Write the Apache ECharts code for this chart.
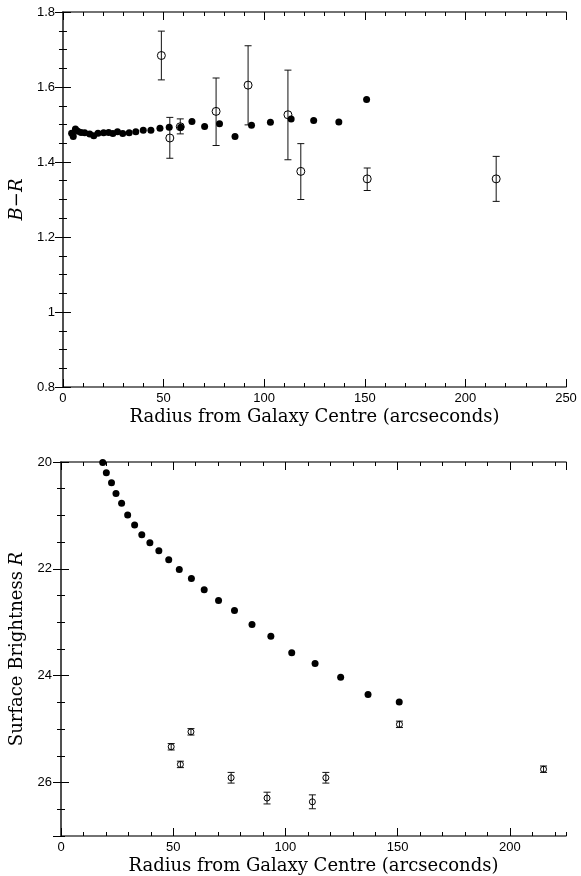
<!DOCTYPE html>
<html>
<head>
<meta charset="utf-8">
<script src="https://cdn.jsdelivr.net/npm/echarts@6/dist/echarts.min.js"></script>
<style>
  html, body { margin: 0; padding: 0; background: #fff; }
  #chart { width: 581px; height: 876px; }
</style>
</head>
<body>
<div id="chart"></div>
<script>
// B-R colour profile, filled points (radius in arcsec, colour)
const brDiskR = [4.3, 5.1, 6.2, 7.4, 9.0, 10.8, 13.3, 15.3, 17.4, 20.2, 22.7, 24.8, 27.1, 29.7, 32.9, 36.2,
  39.9, 43.7, 48.2, 52.8, 58.5, 64.1, 70.4, 77.8, 85.5, 93.7, 103.1, 113.4, 124.6, 137.1, 150.9]
const brDiskColor = [1.477, 1.468, 1.488, 1.482, 1.479, 1.478, 1.475, 1.470, 1.477, 1.478, 1.479, 1.476, 1.481, 1.476, 1.478, 1.481,
  1.485, 1.485, 1.490, 1.493, 1.493, 1.508, 1.495, 1.502, 1.468, 1.498, 1.506, 1.515, 1.511, 1.507, 1.567]

// B-R open points with error bars
const brOutR = [48.9, 53.1, 58.3, 76.1, 92.0, 111.8, 118.2, 151.2, 215.3]
const brOutColor = [1.684, 1.464, 1.494, 1.535, 1.605, 1.526, 1.375, 1.355, 1.355]
const brOutLow = [1.619, 1.410, 1.475, 1.444, 1.499, 1.406, 1.300, 1.324, 1.295]
const brOutHigh = [1.749, 1.519, 1.515, 1.624, 1.710, 1.645, 1.449, 1.384, 1.415]

// surface brightness R, filled points
const sbDiskR = [18.6, 20.2, 22.5, 24.5, 27.0, 29.7, 32.8, 36.0, 39.6, 43.6, 48.0, 52.7, 58.1, 63.8, 70.2,
  77.3, 85.1, 93.5, 102.8, 113.2, 124.6, 136.8, 150.7]
const sbDiskMag = [20.01, 20.20, 20.39, 20.59, 20.77, 20.99, 21.18, 21.36, 21.51, 21.66, 21.83, 22.01, 22.18, 22.39, 22.59,
  22.78, 23.04, 23.26, 23.57, 23.77, 24.03, 24.35, 24.49]

// surface brightness R, open points with error bars
const sbOutR = [49.1, 53.2, 57.9, 75.8, 91.8, 112.0, 118.0, 150.8, 215.0]
const sbOutMag = [25.33, 25.66, 25.05, 25.91, 26.29, 26.36, 25.91, 24.91, 25.75]
const sbOutErr = [0.06, 0.06, 0.06, 0.10, 0.11, 0.13, 0.10, 0.06, 0.06]

const xTitle = 'Radius from Galaxy Centre (arcseconds)'

const serif = 'DejaVu Serif'
const sans = 'Liberation Sans'
const frameColor = '#444'

// 4 axes per side pair: major+minor on the main side, major+minor mirrored
function makeAxes(dim, gridIndex, opt) {
  const sides = dim === 'x' ? ['bottom', 'top'] : ['left', 'right']
  const base = {
    type: 'value', gridIndex, min: opt.min, max: opt.max, inverse: !!opt.inverse,
    splitLine: { show: false }, axisLabel: { show: false }, axisLine: { show: false }
  }
  const line = { show: true, lineStyle: { color: frameColor, width: 1.5 } }
  const major = { inside: true, length: 8, lineStyle: { color: '#000', width: 1 } }
  const minor = { inside: true, length: 4, lineStyle: { color: '#000', width: 1 } }
  return [
    Object.assign({}, base, {
      position: sides[0], interval: opt.major, axisLine: line, axisTick: major,
      axisLabel: {
        show: true, color: '#000', fontFamily: sans, fontSize: 13, margin: opt.labelMargin,
        showMaxLabel: opt.showMaxLabel !== false
      },
      name: opt.name, nameLocation: 'middle', nameGap: opt.nameGap, nameRotate: opt.nameRotate,
      nameTextStyle: opt.nameStyle
    }),
    Object.assign({}, base, { position: sides[0], interval: opt.minor, axisTick: minor }),
    Object.assign({}, base, { position: sides[1], interval: opt.major, axisLine: line, axisTick: major }),
    Object.assign({}, base, { position: sides[1], interval: opt.minor, axisTick: minor })
  ]
}

const xNameStyle = { fontFamily: serif, fontSize: 18, color: '#000' }

const xAxes = [].concat(
  makeAxes('x', 0, { min: 0, max: 250, major: 50, minor: 10, name: xTitle, nameGap: 21, labelMargin: 5, nameStyle: xNameStyle }),
  makeAxes('x', 1, { min: 0, max: 225, major: 50, minor: 10, name: xTitle, nameGap: 21, labelMargin: 5, nameStyle: xNameStyle, showMaxLabel: false })
)
const yAxes = [].concat(
  makeAxes('y', 0, {
    min: 0.8, max: 1.8, major: 0.2, minor: 0.05, name: 'B\u2212R', nameGap: 35, nameRotate: 90, labelMargin: 8,
    nameStyle: { fontFamily: serif, fontSize: 18, fontStyle: 'italic', color: '#000' }
  }),
  makeAxes('y', 1, {
    min: 20, max: 27, major: 2, minor: 0.5, inverse: true, name: '{n|Surface Brightness }{i|R}', nameGap: 35, nameRotate: 90,
    labelMargin: 9, showMaxLabel: false,
    nameStyle: {
      rich: {
        n: { fontFamily: serif, fontSize: 18, color: '#000' },
        i: { fontFamily: serif, fontSize: 18, fontStyle: 'italic', color: '#000' }
      }
    }
  })
)

function errorBars(xIdx, yIdx, data) {
  return {
    type: 'custom', xAxisIndex: xIdx, yAxisIndex: yIdx, z: 2, data,
    renderItem(params, api) {
      const lo = api.coord([api.value(0), api.value(1)])
      const hi = api.coord([api.value(0), api.value(2)])
      const w = 3.5
      const style = { stroke: '#111', lineWidth: 1 }
      return {
        type: 'group',
        children: [
          { type: 'line', shape: { x1: lo[0], y1: lo[1], x2: hi[0], y2: hi[1] }, style },
          { type: 'line', shape: { x1: lo[0] - w, y1: lo[1], x2: lo[0] + w, y2: lo[1] }, style },
          { type: 'line', shape: { x1: hi[0] - w, y1: hi[1], x2: hi[0] + w, y2: hi[1] }, style }
        ]
      }
    }
  }
}

const openStyle = { color: 'rgba(0,0,0,0)', borderColor: '#000', borderWidth: 1, opacity: 1 }
const fillStyle = { color: '#000', opacity: 1 }

const chart = echarts.init(document.getElementById('chart'))
chart.setOption({
  animation: false,
  backgroundColor: '#fff',
  grid: [
    { left: 59, top: 12, width: 507, height: 375 },
    { left: 59, top: 462, width: 507, height: 375 }
  ],
  xAxis: xAxes,
  yAxis: yAxes,
  series: [
    errorBars(0, 0, brOutR.map((r, i) => [r, brOutLow[i], brOutHigh[i]])),
    {
      type: 'scatter', xAxisIndex: 0, yAxisIndex: 0, z: 3, symbol: 'circle', symbolSize: 8,
      itemStyle: openStyle, data: brOutR.map((r, i) => [r, brOutColor[i]])
    },
    {
      type: 'scatter', xAxisIndex: 0, yAxisIndex: 0, z: 4, symbol: 'circle', symbolSize: 7,
      itemStyle: fillStyle, data: brDiskR.map((r, i) => [r, brDiskColor[i]])
    },
    errorBars(4, 4, sbOutR.map((r, i) => [r, sbOutMag[i] - sbOutErr[i], sbOutMag[i] + sbOutErr[i]])),
    {
      type: 'scatter', xAxisIndex: 4, yAxisIndex: 4, z: 3, symbol: 'circle', symbolSize: 6,
      itemStyle: openStyle, data: sbOutR.map((r, i) => [r, sbOutMag[i]])
    },
    {
      type: 'scatter', xAxisIndex: 4, yAxisIndex: 4, z: 4, symbol: 'circle', symbolSize: 7,
      itemStyle: fillStyle, data: sbDiskR.map((r, i) => [r, sbDiskMag[i]])
    }
  ]
})
</script>
</body>
</html>
